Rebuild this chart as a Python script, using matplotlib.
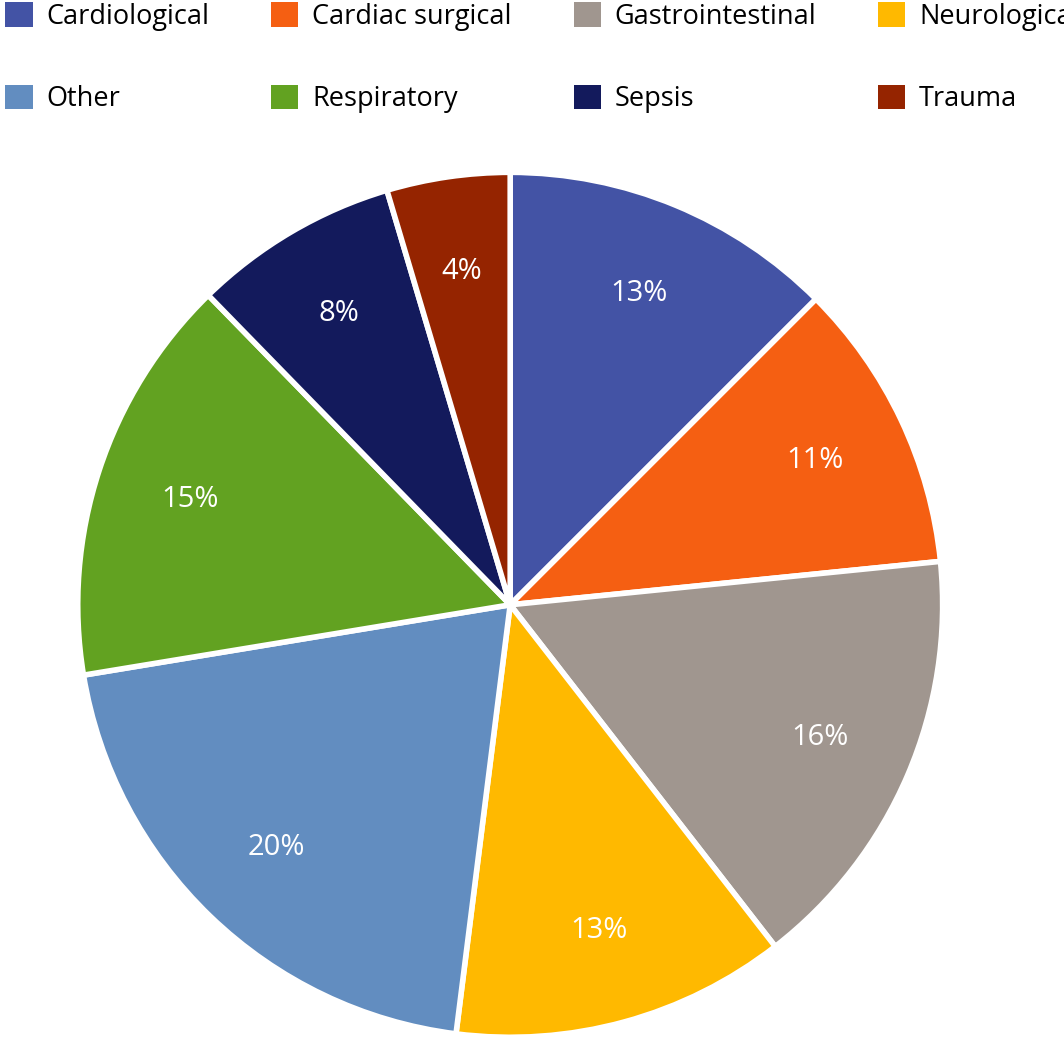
import matplotlib.pyplot as plt
from matplotlib.patches import Patch

categories = ["Cardiological", "Cardiac surgical", "Gastrointestinal", "Neurological",
              "Other", "Respiratory", "Sepsis", "Trauma"]
shares = [12.5, 10.9, 16.1, 12.5, 20.4, 15.3, 7.7, 4.6]
pct_labels = ["13%", "11%", "16%", "13%", "20%", "15%", "8%", "4%"]
colors = ["#4353a5", "#f55f12", "#a0968f", "#ffb900",
          "#628dc0", "#62a221", "#131a5c", "#952400"]

plt.rcParams["font.family"] = ["Open Sans", "DejaVu Sans"]

fig = plt.figure(figsize=(10.64, 10.5), dpi=100)
ax = fig.add_axes([0.069, 0.008, 0.821, 0.832])
wedges, texts = ax.pie(
    shares,
    colors=colors,
    startangle=90,
    counterclock=False,
    labels=pct_labels,
    labeldistance=0.78,
    wedgeprops=dict(edgecolor="white", linewidth=4),
    textprops=dict(color="white", fontsize=21),
)
for t in texts:
    t.set_ha("center")
    t.set_va("center")
ax.set_xlim(-1.01, 1.01)
ax.set_ylim(-1.01, 1.01)
ax.set_aspect("equal")

# legend fills column-major, so reorder to read row by row
order = [0, 4, 1, 5, 2, 6, 3, 7]
handles = [Patch(facecolor=colors[i], edgecolor="none") for i in order]
labels = [categories[i] for i in order]
fig.legend(handles, labels, loc="upper left", bbox_to_anchor=(0.0, 1.003),
           ncol=4, frameon=False, fontsize=19.5, handlelength=1.0, handleheight=1.0,
           handletextpad=0.5, columnspacing=2.3, labelspacing=2.0,
           borderaxespad=0.0, borderpad=0.2)

fig.savefig("out.png", dpi=100)
